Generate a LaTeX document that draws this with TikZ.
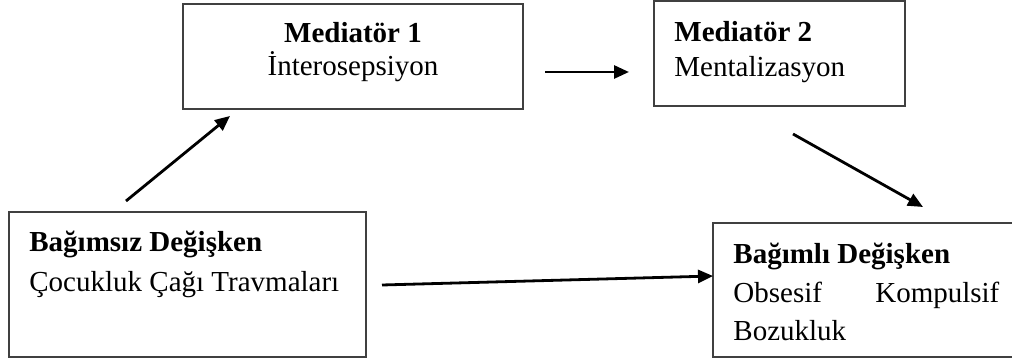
\documentclass[tikz,border=0pt]{standalone}
\usepackage{fontspec}
\setmainfont{Liberation Serif}
\usetikzlibrary{arrows.meta}

\begin{document}
\begin{tikzpicture}[x=0.5pt,y=-0.5pt,
  box/.style={draw=black!75,line width=0.6pt,inner sep=0pt,outer sep=0pt,anchor=north west},
  txt/.style={inner sep=0pt,font=\fontsize{14.5}{#1}\selectfont},
  arr/.style={line width=1.4pt,-{Triangle[length=7.5pt,width=6.5pt]}}]
\useasboundingbox (0,0) rectangle (1012,363);

\coordinate (cM1) at (183,4);
\coordinate (cM2) at (654,1);
\coordinate (cBD) at (9,212);
\coordinate (cBL) at (713,223);

\node[box,minimum width=170pt,minimum height=52.5pt]   (M1) at (cM1) {};
\node[box,minimum width=125.5pt,minimum height=52.5pt] (M2) at (cM2) {};
\node[box,minimum width=178.5pt,minimum height=72.5pt] (BD) at (cBD) {};
\node[box,minimum width=152pt,minimum height=67pt]     (BL) at (cBL) {};

\node[txt=16.5,align=center,anchor=north]     (M1t) at (353,22) {\textbf{Mediatör 1}\\İnterosepsiyon};
\node[txt=17.5,align=left,anchor=north west]  (M2t) at (674,21) {\textbf{Mediatör 2}\\Mentalizasyon};
\node[txt=20,align=left,anchor=north west]    (BDt) at (29,231) {\textbf{Bağımsız Değişken}\\Çocukluk Çağı Travmaları};
\node[txt=19.25,align=left,anchor=north west] (BLt) at (733,243)
  {\textbf{Bağımlı Değişken}\\\makebox[133pt]{Obsesif\hfill Kompulsif}\\Bozukluk};

\draw[arr] ([shift={(117,-11)}]BD.north west) -- ([shift={(47,7)}]M1.south west);
\draw[arr] ([shift={(22,15.5)}]M1.east) -- ([shift={(-25,18.5)}]M2.west);
\draw[arr] ([shift={(139,28)}]M2.south west) -- ([shift={(210,-16)}]BL.north west);
\draw[arr] ([shift={(16,0.5)}]BD.east) -- ([shift={(0,-14)}]BL.west);

\end{tikzpicture}
\end{document}
